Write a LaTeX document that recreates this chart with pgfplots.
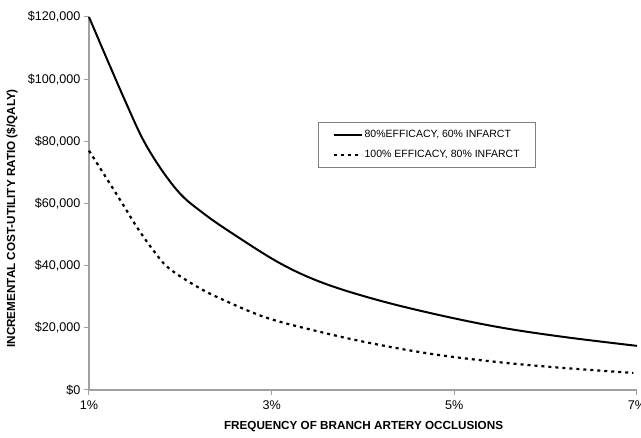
\documentclass[border=0pt]{standalone}
\usepackage{fontspec}
\setmainfont{Liberation Sans}
\usepackage{pgfplots}
\pgfplotsset{compat=1.18}
\definecolor{axgray}{HTML}{A0A0A0}

\begin{document}
\begin{tikzpicture}
  \begin{axis}[
      at={(0pt,0pt)}, anchor=south west,
      scale only axis,
      width=548pt, height=373pt,
      xmin=1, xmax=7,
      ymin=0, ymax=120000,
      clip=false,
      scaled y ticks=false,
      axis lines=left,
      axis line style={-, draw=axgray, line width=1.5pt},
      xtick={1,3,5,7},
      xticklabels={1\%,3\%,5\%,7\%},
      ytick={0,20000,40000,60000,80000,100000,120000},
      yticklabels={{\$0},{\$20,000},{\$40,000},{\$60,000},{\$80,000},{\$100,000},{\$120,000}},
      tick align=outside,
      major tick length=5pt,
      tick style={draw=axgray, line width=1pt},
      tick label style={font=\fontsize{12.6}{14}\selectfont},
      xticklabel style={yshift=-2pt},
      xlabel={FREQUENCY OF BRANCH ARTERY OCCLUSIONS},
      ylabel={INCREMENTAL COST-UTILITY RATIO (\$/QALY)},
      label style={font=\bfseries\fontsize{11.7}{13}\selectfont},
      xlabel style={at={(axis description cs:0.501,-0.099)}, anchor=center},
      ylabel style={at={(axis description cs:-0.1405,0.46)}, anchor=center},
      legend style={
        at={(0.418,0.718)}, anchor=north west,
        draw=gray, line width=0.8pt,
        font=\fontsize{10.5}{12}\selectfont,
        inner xsep=14pt, inner ysep=6pt,
        row sep=7pt,
      },
      legend image code/.code={\draw[#1] (0pt,0pt) -- (28pt,0pt);},
      legend cell align=left,
    ]

    % 80% efficacy, 60% infarct
    \addplot [black, line width=2pt, smooth, tension=0.6] coordinates {
      (1.00,120000) (1.39,93400) (1.64,78000) (1.96,64400)
      (2.25,56900) (2.62,49400) (3.09,40800) (3.53,34800) (4.08,29600)
      (4.73,24800) (5.47,20300) (6.19,17100) (7.00,14200)
    };
    \addlegendentry{80\%EFFICACY, 60\% INFARCT\hspace{26pt}}

    % 100% efficacy, 80% infarct
    \addplot [black, line width=2.2pt, dash pattern=on 3pt off 4pt, smooth, tension=0.6] coordinates {
      (1.00,77000) (1.34,61200) (1.52,52600) (1.70,45100) (1.87,39300)
      (2.18,33300) (2.47,29000) (2.95,23200) (3.53,18700) (4.08,15100)
      (4.75,11600) (5.47,9000) (6.19,7100) (6.96,5500)
    };
    \addlegendentry{100\% EFFICACY, 80\% INFARCT\hspace{26pt}}
  \end{axis}
  \pgfresetboundingbox
  \path[use as bounding box] (-89pt,-48pt) rectangle (552pt,390pt);
\end{tikzpicture}
\end{document}
